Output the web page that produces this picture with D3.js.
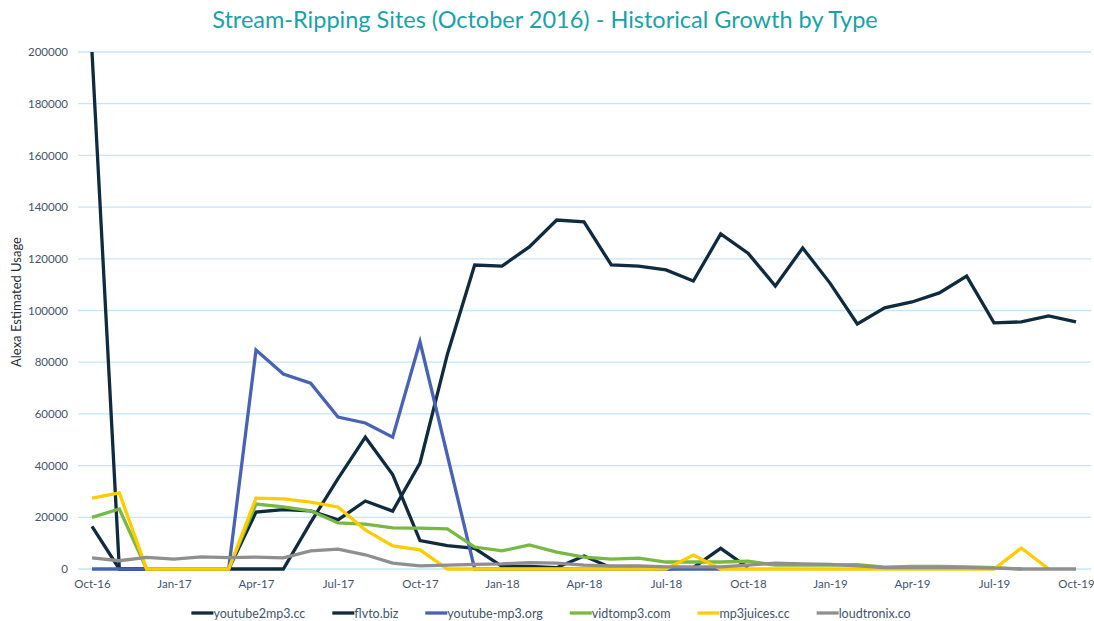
<!DOCTYPE html>
<html>
<head>
<meta charset="utf-8">
<script src="https://cdn.jsdelivr.net/npm/d3@7"></script>
<style>
  body { margin: 0; background: #fff; }
  text { font-family: Lato, "Open Sans", sans-serif; }
</style>
</head>
<body>
<div id="chart"></div>
<script>
var width = 1094;
var height = 621;

// months Oct-16 .. Oct-19
var months = ["Oct-16","Nov-16","Dec-16","Jan-17","Feb-17","Mar-17","Apr-17","May-17","Jun-17","Jul-17","Aug-17","Sep-17",
  "Oct-17","Nov-17","Dec-17","Jan-18","Feb-18","Mar-18","Apr-18","May-18","Jun-18","Jul-18","Aug-18","Sep-18",
  "Oct-18","Nov-18","Dec-18","Jan-19","Feb-19","Mar-19","Apr-19","May-19","Jun-19","Jul-19","Aug-19","Sep-19","Oct-19"];

var tickLabels = ["Oct-16","Jan-17","Apr-17","Jul-17","Oct-17","Jan-18","Apr-18","Jul-18","Oct-18","Jan-19","Apr-19","Jul-19","Oct-19"];
var yTicks = [0, 20000, 40000, 60000, 80000, 100000, 120000, 140000, 160000, 180000, 200000];

var seriesNames = ["youtube2mp3.cc", "flvto.biz", "youtube-mp3.org", "vidtomp3.com", "mp3juices.cc", "loudtronix.co"];
var seriesColors = ["#0f2b3d", "#0f2b3d", "#4862b6", "#78b843", "#ffcc00", "#8f8f8f"];

var youtube2mp3 = [200000, 0, 0, 0, 0, 0, 0, 0, 18000, 35000, 51000, 36500,
  11000, 9000, 8000, 1000, 1000, 500, 5000, 500, 500, 0, 500, 8000,
  500, null, null, null, null, null, null, null, null, null, null, null, null];

var flvto = [16500, 0, 0, 0, 0, 0, 22000, 23000, 22500, 19000, 26300, 22400,
  41000, 83000, 117600, 117200, 124600, 135000, 134300, 117600, 117200, 115700, 111400, 129600,
  122200, 109500, 124200, 110600, 94800, 101000, 103300, 106800, 113300, 95200, 95600, 97900, 95600];

var youtubeMp3org = [0, 0, 0, 0, 0, 0, 84700, 75400, 71900, 58800, 56500, 51000,
  87900, 44000, 0, 0, 0, 0, 0, 0, 0, 0, 0, 0,
  null, null, null, null, null, null, null, null, null, null, null, null, null];

var vidtomp3 = [20000, 23200, 0, 0, 0, 0, 25100, 24000, 22500, 17800, 17400, 15900,
  15800, 15500, 8500, 7000, 9300, 6500, 4600, 3800, 4200, 2700, 2700, 2700,
  3000, 1500, 1500, 1500, 1700, 700, 1000, 1000, 800, 500, 0, null, null];

var mp3juices = [27400, 29400, 0, 0, 0, 0, 27400, 27100, 25900, 24000, 15100, 8900,
  7400, 0, 0, 0, 0, 0, 0, 0, 0, 0, 5400, 0,
  0, 0, 0, 0, 0, 0, 0, 0, 0, 0, 8100, 0, null];

var loudtronix = [4300, 3200, 4500, 3800, 4700, 4400, 4600, 4300, 7000, 7700, 5500, 2300,
  1200, 1500, 1800, 2000, 2500, 2300, 1500, 1200, 1200, 800, 800, 800,
  1500, 2300, 2000, 1800, 1200, 500, 500, 500, 500, 300, 0, 0, 0];

var seriesValues = [youtube2mp3, flvto, youtubeMp3org, vidtomp3, mp3juices, loudtronix];

var svg = d3.select("#chart")
  .append("svg")
  .attr("width", width)
  .attr("height", height);

var xScale = d3.scalePoint()
  .domain(months)
  .range([92, 1076]);

var yScale = d3.scaleLinear()
  .domain([0, 200000])
  .range([569, 52]);

// title
svg.append("text")
  .attr("x", 545)
  .attr("y", 28)
  .attr("text-anchor", "middle")
  .style("font-size", "23.5px")
  .style("fill", "#17a3a8")
  .text("Stream-Ripping Sites (October 2016) - Historical Growth by Type");

// gridlines
svg.append("g")
  .selectAll("line")
  .data(yTicks)
  .enter()
  .append("line")
  .attr("x1", 78)
  .attr("x2", 1091)
  .attr("y1", function(d) { return yScale(d); })
  .attr("y2", function(d) { return yScale(d); })
  .style("stroke", "#c5e6fa")
  .style("stroke-width", 1.3);

// y axis labels
var yAxis = d3.axisLeft(yScale)
  .tickValues(yTicks)
  .tickSize(0)
  .tickPadding(0)
  .tickFormat(d3.format("d"));

var yg = svg.append("g")
  .attr("transform", "translate(68,0)")
  .call(yAxis);
yg.select(".domain").remove();
yg.selectAll("text")
  .style("font-family", "Lato, 'Open Sans', sans-serif")
  .style("font-size", "11.5px")
  .style("fill", "#44546a");

// x axis labels
var xAxis = d3.axisBottom(xScale)
  .tickValues(tickLabels)
  .tickSize(0)
  .tickPadding(0);

var xg = svg.append("g")
  .attr("transform", "translate(0,580)")
  .call(xAxis);
xg.select(".domain").remove();
xg.selectAll("text")
  .style("font-family", "Lato, 'Open Sans', sans-serif")
  .style("font-size", "11.5px")
  .style("fill", "#44546a");

// y axis title
svg.append("text")
  .attr("transform", "translate(21,302) rotate(-90)")
  .attr("text-anchor", "middle")
  .style("font-size", "13px")
  .style("fill", "#1f2d3a")
  .text("Alexa Estimated Usage");

// lines
var line = d3.line()
  .defined(function(d) { return d != null; })
  .x(function(d, i) { return xScale(months[i]); })
  .y(function(d) { return yScale(d); });

svg.append("g")
  .selectAll("path")
  .data(seriesValues)
  .enter()
  .append("path")
  .attr("d", line)
  .style("fill", "none")
  .style("stroke", function(d, i) { return seriesColors[i]; })
  .style("stroke-width", 3.3)
  .style("stroke-linejoin", "miter");

// legend
var legend = svg.append("g").attr("class", "legend");
var items = legend.selectAll("g")
  .data(seriesNames)
  .enter()
  .append("g");

items.append("line")
  .attr("x1", 0)
  .attr("x2", 22)
  .attr("y1", 0)
  .attr("y2", 0)
  .style("stroke", function(d, i) { return seriesColors[i]; })
  .style("stroke-width", 3.3);

items.append("text")
  .attr("x", 22)
  .attr("y", 4.5)
  .style("font-size", "12.5px")
  .style("fill", "#44546a")
  .text(function(d) { return d; });

var offset = 0;
items.each(function() {
  var w = d3.select(this).select("text").node().getComputedTextLength() + 22;
  d3.select(this).attr("transform", "translate(" + offset + ",0)");
  offset += w + 27;
});
var total = offset - 27;
legend.attr("transform", "translate(" + (551 - total / 2) + ",613)");
</script>
</body>
</html>
